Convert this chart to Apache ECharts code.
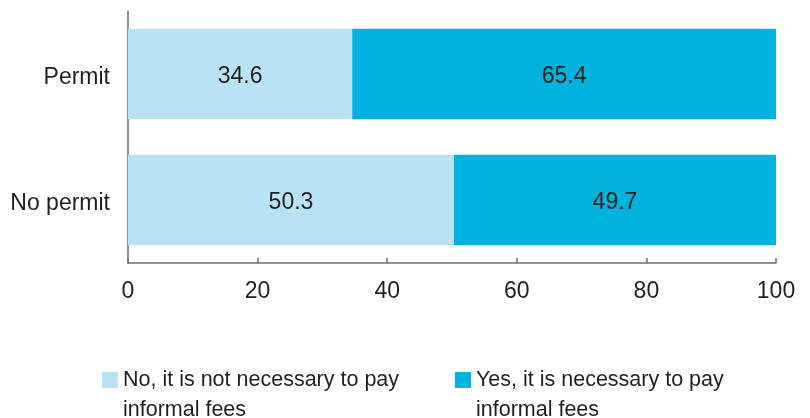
<!DOCTYPE html>
<html>
<head>
<meta charset="utf-8">
<script src="https://cdn.jsdelivr.net/npm/echarts@6/dist/echarts.min.js"></script>
<style>
  html, body { margin: 0; padding: 0; background: #fff; }
  #chart { width: 810px; height: 418px; }
</style>
</head>
<body>
<div id="chart"></div>
<script>
// data
const categories = ['No permit', 'Permit']
const noValues = [50.3, 34.6]
const yesValues = [49.7, 65.4]
const seriesNames = ['No, it is not necessary to pay\ninformal fees', 'Yes, it is necessary to pay\ninformal fees']
const xTicks = [0, 20, 40, 60, 80, 100]

const textColor = '#231f20'
const axisColor = '#6d6e70'
const font = '"Liberation Sans", Arial, sans-serif'

let chart = echarts.init(document.getElementById('chart'))

function legendAt(left, name) {
  return {
    data: [name],
    left: left,
    top: 335,
    icon: 'rect',
    itemWidth: 16,
    itemHeight: 16,
    itemGap: 0,
    padding: 0,
    selectedMode: false,
    // blank first line so the square sits beside the first text line
    formatter: function (n) { return ' \n' + n },
    textStyle: {
      fontFamily: font,
      fontSize: 21.5,
      color: textColor,
      lineHeight: 30,
    },
  }
}

chart.setOption({
  animation: false,
  grid: { left: 128, right: 34, top: 11, bottom: 155 },
  legend: [legendAt(102, seriesNames[0]), legendAt(455, seriesNames[1])],
  xAxis: {
    type: 'value',
    min: xTicks[0],
    max: xTicks[xTicks.length - 1],
    interval: 20,
    splitLine: { show: false },
    axisLine: { show: true, lineStyle: { color: axisColor, width: 1.5 } },
    axisTick: { show: true, inside: true, length: 5, lineStyle: { color: axisColor, width: 1.5 } },
    axisLabel: { color: textColor, fontSize: 23, fontFamily: font, margin: 17 },
  },
  yAxis: {
    type: 'category',
    data: categories,
    axisLine: { show: true, lineStyle: { color: axisColor, width: 1.5 } },
    axisTick: { show: false },
    // nudge the labels a few px down, like the reference
    axisLabel: { color: textColor, fontSize: 23, fontFamily: font, margin: 18, lineHeight: 7, verticalAlign: 'top' },
  },
  series: [
    {
      name: seriesNames[0],
      type: 'bar',
      stack: 'total',
      barCategoryGap: '28%',
      data: noValues,
      itemStyle: { color: '#b7e3f3' },
      label: { show: true, position: 'inside', offset: [0, 3], color: textColor, fontSize: 23, fontFamily: font },
    },
    {
      name: seriesNames[1],
      type: 'bar',
      stack: 'total',
      barCategoryGap: '28%',
      data: yesValues,
      itemStyle: { color: '#00b2dd' },
      label: { show: true, position: 'inside', offset: [0, 3], color: textColor, fontSize: 23, fontFamily: font },
    },
  ],
})
</script>
</body>
</html>
